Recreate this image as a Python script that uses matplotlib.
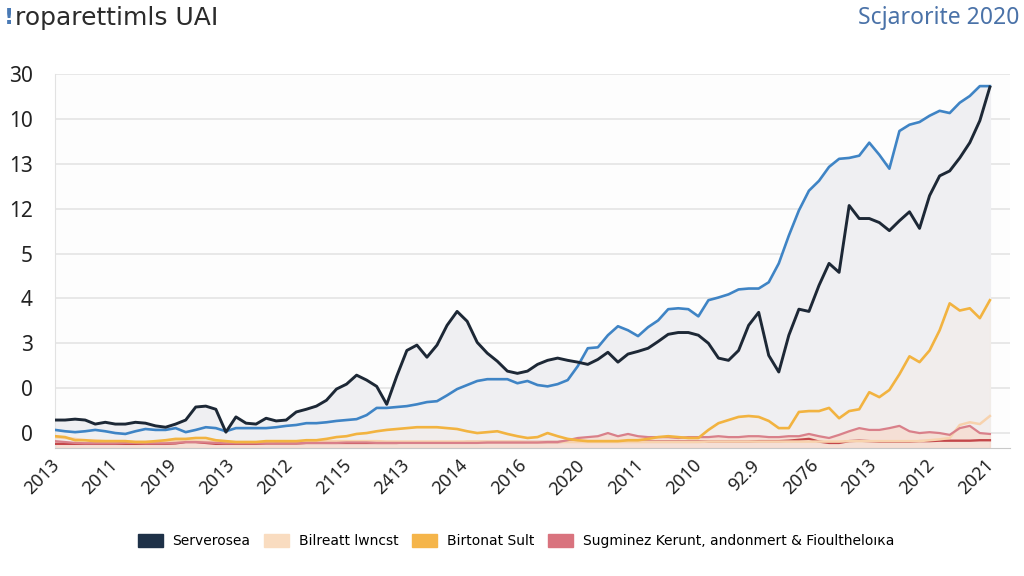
import numpy as np
import matplotlib.pyplot as plt
from matplotlib.patches import Patch


title_left = "roparettimls UAI"
title_right = "Scjarorite 2020"
x_labels = ["2013", "2011", "2019", "2013", "2012", "2115", "2413", "2014", "2016",
            "2020", "2011", "2010", "92.9", "2076", "2013", "2012", "2021"]
y_labels = ["0", "0", "3", "4", "5", "12", "13", "10", "30"]
legend_names = ["Serverosea", "Bilreatt lwncst", "Birtonat Sult",
                "Sugminez Kerunt, andonmert & Fioultheloıкa"]

serverosea = [2.9, 2.9, 3.1, 2.9, 2.0, 2.4, 2.0, 2.0, 2.4, 2.2,
              1.6, 1.3, 2.0, 2.9, 5.8, 6.0, 5.3, 0.2, 3.6, 2.2,
              2.0, 3.3, 2.7, 2.9, 4.7, 5.3, 6.0, 7.3, 9.8, 10.9,
              12.9, 11.8, 10.4, 6.4, 12.7, 18.4, 19.6, 16.9, 19.6, 24.0,
              27.1, 24.9, 20.2, 17.8, 16.0, 13.8, 13.3, 13.8, 15.3, 16.2,
              16.7, 16.2, 15.8, 15.3, 16.4, 18.0, 15.8, 17.6, 18.2, 18.9,
              20.4, 22.0, 22.4, 22.4, 21.8, 20.0, 16.7, 16.2, 18.4, 24.0,
              26.9, 17.3, 13.6, 21.8, 27.6, 27.1, 32.9, 37.8, 35.8, 50.7,
              47.8, 47.8, 46.9, 45.1, 47.3, 49.3, 45.6, 52.9, 57.3, 58.4,
              61.3, 64.7, 69.6, 77.1]
blue_trend = [0.7, 0.4, 0.2, 0.4, 0.7, 0.4, 0.0, -0.2, 0.4, 0.9,
              0.7, 0.7, 1.1, 0.2, 0.7, 1.3, 1.1, 0.4, 1.1, 1.1,
              1.1, 1.1, 1.3, 1.6, 1.8, 2.2, 2.2, 2.4, 2.7, 2.9,
              3.1, 4.0, 5.6, 5.6, 5.8, 6.0, 6.4, 6.9, 7.1, 8.4,
              9.8, 10.7, 11.6, 12.0, 12.0, 12.0, 11.1, 11.6, 10.7, 10.4,
              10.9, 11.8, 14.9, 18.9, 19.1, 21.8, 23.8, 22.9, 21.6, 23.6,
              25.1, 27.6, 27.8, 27.6, 26.0, 29.6, 30.2, 30.9, 32.0, 32.2,
              32.2, 33.6, 37.8, 44.0, 49.6, 54.0, 56.2, 59.3, 61.1, 61.3,
              61.8, 64.7, 62.0, 58.9, 67.3, 68.7, 69.3, 70.7, 71.8, 71.3,
              73.6, 75.1, 77.3, 77.3]
birtonat = [-0.7, -0.9, -1.6, -1.6, -1.8, -1.8, -1.8, -1.8, -2.0, -2.0,
            -1.8, -1.6, -1.3, -1.3, -1.1, -1.1, -1.6, -1.8, -2.0, -2.0,
            -2.0, -1.8, -1.8, -1.8, -1.8, -1.6, -1.6, -1.3, -0.9, -0.7,
            -0.2, 0.0, 0.4, 0.7, 0.9, 1.1, 1.3, 1.3, 1.3, 1.1,
            0.9, 0.4, 0.0, 0.2, 0.4, -0.2, -0.7, -1.1, -0.9, 0.0,
            -0.7, -1.3, -1.6, -1.8, -1.8, -1.8, -1.8, -1.6, -1.6, -1.3,
            -0.9, -0.7, -0.9, -1.1, -1.1, 0.7, 2.2, 2.9, 3.6, 3.8,
            3.6, 2.7, 1.1, 1.1, 4.7, 4.9, 4.9, 5.6, 3.3, 4.9,
            5.3, 9.1, 8.0, 9.6, 13.1, 17.1, 15.8, 18.4, 22.9, 28.9,
            27.3, 27.8, 25.6, 29.6]
bilreatt = [-0.9, -1.1, -1.3, -1.6, -1.6, -1.8, -1.8, -1.8, -1.9, -1.9,
            -1.9, -1.8, -1.8, -1.8, -1.8, -1.9, -1.9, -2.0, -2.0, -2.0,
            -2.0, -2.0, -1.9, -1.9, -1.9, -1.9, -1.8, -1.8, -1.8, -1.8,
            -1.8, -1.8, -1.8, -1.9, -1.9, -1.9, -1.9, -1.9, -1.9, -1.9,
            -1.9, -1.9, -1.9, -1.9, -1.9, -1.9, -1.9, -2.0, -2.0, -2.0,
            -2.0, -2.0, -2.0, -2.0, -2.0, -2.0, -2.0, -2.0, -2.0, -2.0,
            -2.0, -2.0, -2.0, -2.0, -2.0, -1.9, -1.9, -1.9, -1.9, -1.9,
            -1.9, -1.9, -1.9, -1.9, -1.9, -1.9, -1.9, -1.9, -1.9, -1.8,
            -1.8, -1.8, -1.8, -1.8, -1.8, -1.8, -1.8, -1.6, -1.4, -1.1,
            1.8, 2.4, 2.0, 3.8]
sugminez = [-1.8, -2.0, -2.2, -2.3, -2.3, -2.3, -2.3, -2.2, -2.2, -2.3,
            -2.3, -2.3, -2.2, -2.0, -2.0, -2.1, -2.2, -2.3, -2.3, -2.3,
            -2.3, -2.3, -2.3, -2.3, -2.3, -2.2, -2.2, -2.2, -2.2, -2.1,
            -2.1, -2.1, -2.2, -2.2, -2.2, -2.2, -2.2, -2.2, -2.2, -2.2,
            -2.2, -2.2, -2.2, -2.1, -2.1, -2.1, -2.1, -2.1, -2.1, -2.0,
            -2.0, -1.6, -1.1, -0.9, -0.7, 0.0, -0.7, -0.2, -0.7, -0.9,
            -0.9, -0.9, -1.1, -0.9, -0.9, -0.9, -0.7, -0.9, -0.9, -0.7,
            -0.7, -0.9, -0.9, -0.7, -0.7, -0.2, -0.7, -1.1, -0.4, 0.4,
            1.1, 0.7, 0.7, 1.1, 1.6, 0.4, 0.0, 0.2, 0.0, -0.4,
            1.1, 1.6, 0.0, -0.2]
base_red = [-2.4, -2.4, -2.4, -2.4, -2.4, -2.4, -2.4, -2.4, -2.4, -2.4,
            -2.4, -2.4, -2.3, -2.0, -2.0, -2.2, -2.4, -2.4, -2.4, -2.4,
            -2.4, -2.3, -2.3, -2.3, -2.3, -2.2, -2.2, -2.2, -2.2, -2.2,
            -2.2, -2.2, -2.2, -2.2, -2.2, -2.1, -2.1, -2.1, -2.1, -2.1,
            -2.1, -2.0, -2.0, -2.0, -2.0, -2.0, -2.0, -2.0, -2.0, -2.0,
            -2.0, -1.9, -1.9, -1.9, -1.9, -1.9, -1.9, -1.9, -1.9, -1.9,
            -1.9, -1.9, -1.9, -1.9, -1.9, -1.9, -1.9, -1.9, -1.9, -1.9,
            -1.8, -1.8, -1.8, -1.7, -1.5, -1.3, -1.9, -2.2, -2.2, -1.8,
            -1.7, -1.8, -1.9, -1.9, -1.9, -1.9, -1.8, -1.8, -1.7, -1.7,
            -1.7, -1.7, -1.6, -1.6]

x = np.arange(len(serverosea))
upper = np.maximum(serverosea, blue_trend)
y_bottom = -3.33

fig = plt.figure(figsize=(10.24, 5.76), dpi=100)
ax = fig.add_axes([55 / 1024, 1 - 448 / 576, 955 / 1024, 374 / 576])

# grey band under the two main lines, faint warm bands under the small series
ax.fill_between(x, upper, y_bottom, color="#efeff2", zorder=1)
ax.fill_between(x, birtonat, y_bottom, color="#fde8cc", alpha=0.15, zorder=2)
ax.fill_between(x, sugminez, y_bottom, color="#f8d6c6", alpha=0.6, zorder=2)

ax.plot(x, base_red, color="#c4474a", lw=1.7, zorder=3)
ax.plot(x, bilreatt, color="#f7d2ad", lw=1.8, zorder=3)
ax.plot(x, sugminez, color="#d9808a", lw=1.6, zorder=4)
ax.plot(x, birtonat, color="#f2b340", lw=1.9, zorder=5)
ax.plot(x, blue_trend, color="#3f84c5", lw=1.9, zorder=6)
ax.plot(x, serverosea, color="#1d2836", lw=2.1, zorder=7)

ax.set_xlim(0, 95.0)
ax.set_ylim(y_bottom, 80)
ax.set_yticks(np.arange(0, 81, 10))
ax.set_yticklabels(y_labels, fontsize=15, color="#222222", family=["Noto Sans", "DejaVu Sans"])
ax.set_xticks(np.linspace(0.8, 93.7, len(x_labels)))
ax.set_xticklabels(x_labels, rotation=45, ha="right", fontsize=13, color="#222222",
                   family=["Noto Sans", "DejaVu Sans"])
ax.tick_params(axis="y", length=0, pad=16)
ax.tick_params(axis="x", length=0, pad=6)
ax.grid(axis="y", color="#e4e4e4", lw=1.2)
ax.set_axisbelow(True)
for side in ["right", "top"]:
    ax.spines[side].set_visible(False)
ax.spines["left"].set_color("#e2e2e2")
ax.spines["bottom"].set_color("#c8c8c8")
ax.set_facecolor("#fdfdfd")

fig.text(4 / 1024, 1 - 18 / 576, "!", color="#4a7ab5", fontsize=16, fontweight="bold", va="center")
fig.text(15 / 1024, 1 - 18 / 576, title_left, color="#2b2b2b", fontsize=18, va="center")
fig.text(1019 / 1024, 1 - 18 / 576, title_right, color="#4a72a8", fontsize=16.5, va="center",
         ha="right", family=["Noto Sans", "DejaVu Sans"])

handles = [Patch(color=c) for c in ["#1e3148", "#f9dcc0", "#f5b54a", "#d9737e"]]
fig.legend(handles, legend_names, loc="center", bbox_to_anchor=(516 / 1024, 1 - 541 / 576),
           ncol=4, frameon=False, handlelength=1.8, handleheight=1.15,
           handletextpad=0.7, columnspacing=1.0,
           prop={"family": "DejaVu Sans", "size": 10})

fig.savefig("out.png", dpi=100)
